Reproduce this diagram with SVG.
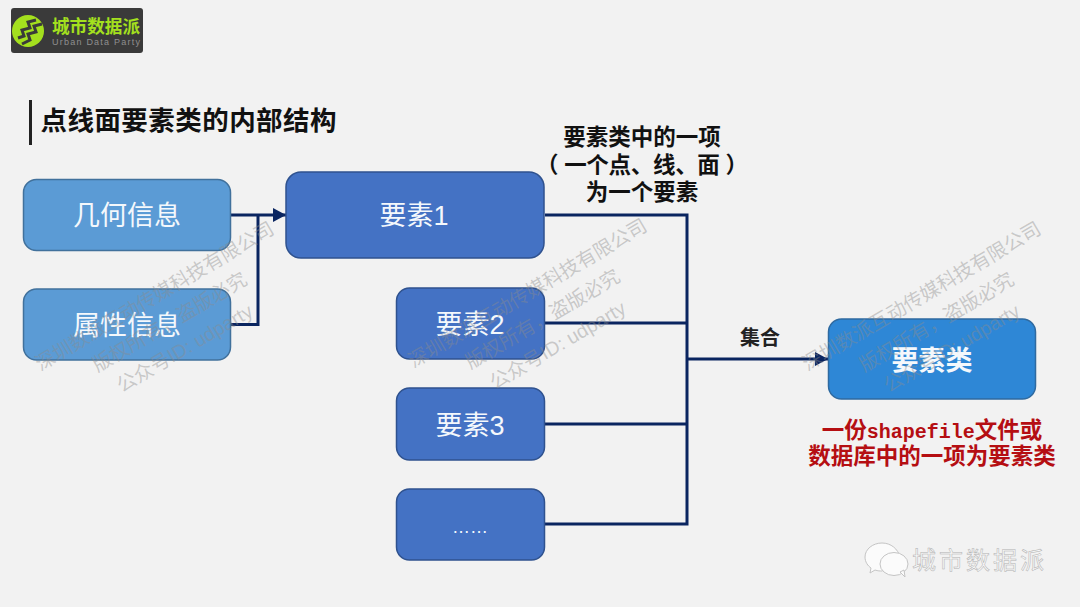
<svg xmlns="http://www.w3.org/2000/svg" width="1080" height="607" viewBox="0 0 1080 607">
<style>
text{font-family:"Liberation Sans","Noto Sans CJK SC",sans-serif;text-anchor:middle}
.n{stroke-width:1.5}
.lt{fill:#5b9bd5;stroke:#41719c}
.md{fill:#4472c4;stroke:#2f528f}
.bl{fill:#2e87d6;stroke:#2f6aa0}
.wt{fill:#f4f8fc;font-size:27px}
.bk{fill:#111;font-weight:700;font-size:22.500px}
.rd{fill:#b50e12;font-weight:700;font-size:22.500px}
.wm{fill:#8c8c8c;fill-opacity:.42;font-size:19.500px}
.c{fill:none;stroke:#0a2560;stroke-width:3}
.lg{fill:#a4e01e;font-weight:700;font-size:18px}
</style>
<defs>
<marker id="a" markerUnits="userSpaceOnUse" markerWidth="14" markerHeight="14" refX="13" refY="7" orient="auto"><path d="M0 0L13 7L0 14Z" fill="#0a2560"/></marker>
<g id="w">
<text x="0" y="0" transform="rotate(-30.500)">深圳数派互动传媒科技有限公司</text>
<text x="15" y="26" transform="rotate(-30.500 15 26)">版权所有，盗版必究</text>
<text x="30" y="52" transform="rotate(-30.500 30 52)">公众号ID: udparty</text>
</g>
</defs>
<rect width="1080" height="607" fill="#f2f2f2"/>
<g id="logo">
<rect x="11" y="8" width="132" height="45" rx="3" fill="#3a3a3a"/>
<circle cx="28" cy="31" r="16" fill="#a4e01e"/>
<path d="M18 38L24 36L22 30L30 28L28 22L36 20M22 44L30 40L28 34L36 32L34 26L42 24" fill="none" stroke="#3a3a3a" stroke-width="3"/>
<text class="lg" x="96" y="33" textLength="88" lengthAdjust="spacingAndGlyphs">城市数据派</text>
<text x="96" y="45" fill="#8f8f8f" font-size="9" textLength="88" lengthAdjust="spacing">Urban Data Party</text>
</g>
<g id="title">
<rect x="29" y="100" width="3" height="45" fill="#222"/>
<text x="188.500" y="130" fill="#111" font-weight="700" font-size="26.500" textLength="296" lengthAdjust="spacing">点线面要素类的内部结构</text>
</g>
<g id="connectors">
<path class="c" d="M231 215H286" marker-end="url(#a)"/>
<path class="c" d="M231 324.500H258V215"/>
<path class="c" d="M545 215H687V524H545"/>
<path class="c" d="M545 323H687"/>
<path class="c" d="M545 424H687"/>
<path class="c" d="M687 359H828" marker-end="url(#a)"/>
</g>
<g id="n-geom"><rect class="n lt" x="23.500" y="179.500" width="207" height="71" rx="13"/><text class="wt" x="127" y="225">几何信息</text></g>
<g id="n-attr"><rect class="n lt" x="23.500" y="289" width="207" height="71" rx="13"/><text class="wt" x="127" y="335">属性信息</text></g>
<g id="n-f1"><rect class="n md" x="286" y="172" width="258" height="86" rx="15"/><text class="wt" x="414" y="225">要素1</text></g>
<g id="n-f2"><rect class="n md" x="396.500" y="288" width="148" height="71" rx="13"/><text class="wt" x="470" y="334">要素2</text></g>
<g id="n-f3"><rect class="n md" x="396.500" y="388" width="148" height="72" rx="13"/><text class="wt" x="470" y="435">要素3</text></g>
<g id="n-more"><rect class="n md" x="396.500" y="489" width="148" height="71" rx="13"/><text class="wt" x="470" y="533" style="font-size:18px">……</text></g>
<g id="n-class"><rect class="n bl" x="828.500" y="319" width="207" height="80" rx="13"/><text class="wt" x="932" y="370" style="font-weight:700">要素类</text></g>
<g id="labels">
<text class="bk" x="642" y="145">要素类中的一项</text>
<text class="bk" x="642" y="173" textLength="212" lengthAdjust="spacing">（ 一个点、线、面 ）</text>
<text class="bk" x="642" y="200">为一个要素</text>
<text class="bk" x="760" y="345" style="font-size:20px;fill:#222">集合</text>
<text class="rd" x="932" y="438"><tspan>一份</tspan><tspan font-family="Liberation Mono,monospace" font-size="20">shapefile</tspan><tspan>文件或</tspan></text>
<text class="rd" x="932" y="464">数据库中的一项为要素类</text>
</g>
<g id="watermarks" class="wm">
<use href="#w" x="158" y="302"/>
<use href="#w" x="531" y="299"/>
<use href="#w" x="925" y="302"/>
</g>
<g id="wechat">
<path d="M882 543c-9 0-17 6-17 14 0 5 3 9 6 11l-1 5 5-3c3 1 5 1 7 1 5-2 4-8 10-11 4-2 7-3 8-3-2-8-9-14-18-14z" fill="#fbfbfb" stroke="#c4c4c4"/>
<ellipse cx="894" cy="564" rx="14" ry="11.500" fill="#fbfbfb" stroke="#c4c4c4"/>
<path d="M900 572l5 5-1-7z" fill="#fbfbfb" stroke="#c4c4c4"/>
<text x="978" y="569" font-size="24" fill="#f8f8f8" stroke="#b0b0b0" stroke-width=".5" textLength="132" lengthAdjust="spacing">城市数据派</text>
</g>
</svg>
